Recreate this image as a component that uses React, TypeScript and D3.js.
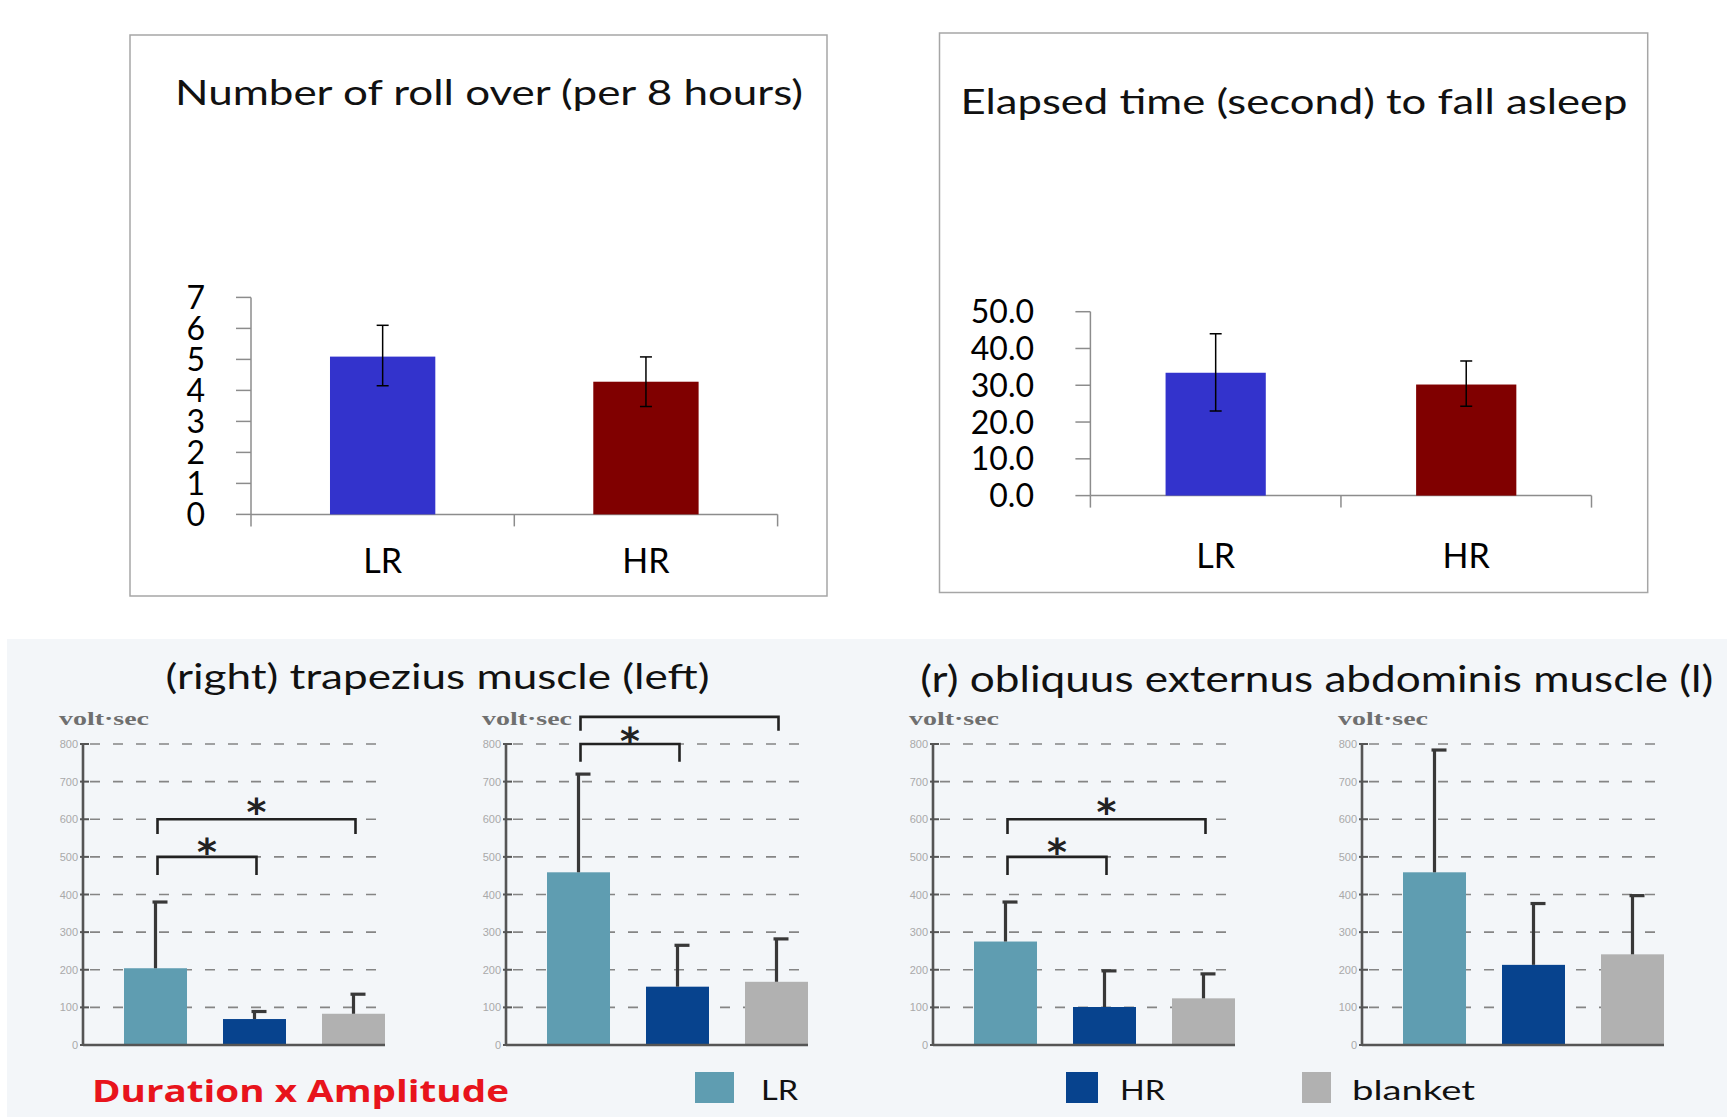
import React from "react";
import * as d3 from "d3";

// ---- top panels ----
const topGroups = ["LR", "HR"];
const topColors = ["#3333cc", "#800000"];

const rollOverMean = [5.09, 4.28];
const rollOverLow = [4.15, 3.48];
const rollOverHigh = [6.1, 5.08];
const rollOverTicks = [0, 1, 2, 3, 4, 5, 6, 7];

const asleepMean = [33.4, 30.2];
const asleepLow = [23.0, 24.3];
const asleepHigh = [44.0, 36.6];
const asleepTicks = [0, 10, 20, 30, 40, 50];

// ---- EMG panels (volt·sec) ----
const groups = ["LR", "HR", "blanket"];
const groupColors = ["#5f9db1", "#07438e", "#b1b1b1"];
const emgTicks = [0, 100, 200, 300, 400, 500, 600, 700, 800];

const trapRightMean = [204, 69, 83];
const trapRightUpper = [380, 89, 135];
const trapLeftMean = [459, 155, 168];
const trapLeftUpper = [720, 265, 282];
const obliqRightMean = [275, 101, 124];
const obliqRightUpper = [380, 197, 189];
const obliqLeftMean = [459, 213, 241];
const obliqLeftUpper = [784, 376, 397];

type Sig = { from: number; to: number; level: number; foot: number; star: number | null };

const trapRightSig: Sig[] = [
  { from: 0, to: 1, level: 500, foot: 452, star: 537 },
  { from: 0, to: 2, level: 600, foot: 561, star: 643 },
];
const trapLeftSig: Sig[] = [
  { from: 0, to: 1, level: 800, foot: 753, star: 833 },
  { from: 0, to: 2, level: 872, foot: 835, star: null },
];
const obliqRightSig: Sig[] = [
  { from: 0, to: 1, level: 500, foot: 452, star: 537 },
  { from: 0, to: 2, level: 600, foot: 561, star: 643 },
];
const obliqLeftSig: Sig[] = [];

const SANS = "Lato, 'Open Sans', sans-serif";

interface TopProps {
  box: [number, number, number, number];
  title: string;
  titleX: number;
  titleY: number;
  titleWidth: number;
  xRange: [number, number];
  yRange: [number, number];
  ticks: number[];
  fmt: (v: number) => string;
  labelX: number;
  catY: number;
  means: number[];
  low: number[];
  high: number[];
}

function TopChart(p: TopProps) {
  const x = d3.scaleBand<string>().domain(topGroups).range(p.xRange).padding(0);
  const y = d3
    .scaleLinear()
    .domain([p.ticks[0], p.ticks[p.ticks.length - 1]])
    .range(p.yRange);
  const [ax, xEnd] = p.xRange;
  const bw = x.bandwidth() * 0.4;
  const edges = [ax, ...topGroups.slice(1).map((g) => x(g) as number), xEnd];
  const axisColor = "#8c8c8c";

  return (
    <g>
      <rect
        x={p.box[0]}
        y={p.box[1]}
        width={p.box[2] - p.box[0]}
        height={p.box[3] - p.box[1]}
        fill="#fff"
        stroke="#a6a6a6"
        strokeWidth={1.5}
      />
      <text
        x={p.titleX}
        y={p.titleY}
        textAnchor="middle"
        fontFamily={SANS}
        fontSize={34}
        textLength={p.titleWidth}
        lengthAdjust="spacingAndGlyphs"
        fill="#111"
      >
        {p.title}
      </text>

      {/* axes */}
      <line x1={ax} x2={ax} y1={y(p.ticks[0])} y2={y(p.ticks[p.ticks.length - 1])} stroke={axisColor} strokeWidth={1.5} />
      <line x1={ax} x2={xEnd} y1={y(0)} y2={y(0)} stroke={axisColor} strokeWidth={1.5} />
      {p.ticks.map((t) => (
        <g key={t}>
          <line x1={ax - 15} x2={ax} y1={y(t)} y2={y(t)} stroke={axisColor} strokeWidth={1.5} />
          <text x={p.labelX} y={y(t) + 11.5} textAnchor="end" fontFamily={SANS} fontSize={32} fill="#000">
            {p.fmt(t)}
          </text>
        </g>
      ))}
      {edges.map((e, i) => (
        <line key={i} x1={e} x2={e} y1={y(0)} y2={y(0) + 12} stroke={axisColor} strokeWidth={1.5} />
      ))}

      {/* bars */}
      {topGroups.map((g, i) => {
        const cx = (x(g) as number) + x.bandwidth() / 2;
        return (
          <g key={g}>
            <rect x={cx - bw / 2} y={y(p.means[i])} width={bw} height={y(0) - y(p.means[i])} fill={topColors[i]} />
            <line x1={cx} x2={cx} y1={y(p.low[i])} y2={y(p.high[i])} stroke="#000" strokeWidth={1.5} />
            <line x1={cx - 6} x2={cx + 6} y1={y(p.high[i])} y2={y(p.high[i])} stroke="#000" strokeWidth={1.5} />
            <line x1={cx - 6} x2={cx + 6} y1={y(p.low[i])} y2={y(p.low[i])} stroke="#000" strokeWidth={1.5} />
            <text x={cx} y={p.catY} textAnchor="middle" fontFamily={SANS} fontSize={34} fill="#000">
              {g}
            </text>
          </g>
        );
      })}
    </g>
  );
}

interface EmgProps {
  axisX: number;
  means: number[];
  upper: number[];
  sig: Sig[];
}

function EmgChart({ axisX, means, upper, sig }: EmgProps) {
  const y = d3.scaleLinear().domain([0, 800]).range([1045, 744]);
  const x = d3
    .scaleBand<string>()
    .domain(groups)
    .range([axisX + 41, axisX + 302])
    .paddingInner(0.3636)
    .paddingOuter(0);
  const cxOf = (i: number) => (x(groups[i]) as number) + x.bandwidth() / 2;
  const dark = "#555";

  return (
    <g>
      <text
        x={axisX - 24}
        y={725}
        fontFamily="'Liberation Serif', 'DejaVu Serif', serif"
        fontWeight="bold"
        fontSize={19}
        fill="#6f6f6f"
        textLength={90}
        lengthAdjust="spacingAndGlyphs"
      >
        volt·sec
      </text>

      {/* dashed grid */}
      {emgTicks.slice(1).map((t) => (
        <line
          key={t}
          x1={axisX + 7}
          x2={axisX + 302}
          y1={y(t)}
          y2={y(t)}
          stroke="#858585"
          strokeWidth={1.7}
          strokeDasharray="10,13"
        />
      ))}

      {/* bars + upper error bars */}
      {groups.map((g, i) => {
        const cx = cxOf(i);
        return (
          <g key={g}>
            <rect x={x(g)} y={y(means[i])} width={x.bandwidth()} height={y(0) - y(means[i])} fill={groupColors[i]} />
            <line x1={cx} x2={cx} y1={y(means[i])} y2={y(upper[i])} stroke="#383838" strokeWidth={3.2} />
            <line x1={cx - 3} x2={cx + 12} y1={y(upper[i])} y2={y(upper[i])} stroke="#383838" strokeWidth={3.2} />
          </g>
        );
      })}

      {/* axis */}
      <line x1={axisX} x2={axisX} y1={y(0)} y2={y(800)} stroke={dark} strokeWidth={2.6} />
      <line x1={axisX} x2={axisX + 302} y1={y(0)} y2={y(0)} stroke={dark} strokeWidth={2.6} />
      {emgTicks.map((t) => (
        <g key={t}>
          <line x1={axisX - 3} x2={axisX + 6} y1={y(t)} y2={y(t)} stroke={dark} strokeWidth={2} />
          <text
            x={axisX - 5}
            y={y(t) + 4}
            textAnchor="end"
            fontFamily="'Liberation Sans', Arial, sans-serif"
            fontSize={11}
            fill="#a9a9a9"
          >
            {t}
          </text>
        </g>
      ))}

      {/* significance brackets */}
      {sig.map((s, k) => {
        const xa = cxOf(s.from) + 2;
        const xb = cxOf(s.to) + 2;
        return (
          <g key={k}>
            <path
              d={`M${xa},${y(s.foot)}V${y(s.level)}H${xb}V${y(s.foot)}`}
              fill="none"
              stroke="#222"
              strokeWidth={2.6}
            />
            {s.star !== null && (
              <text
                x={(xa + xb) / 2}
                y={y(s.star) + 22}
                textAnchor="middle"
                fontFamily="'DejaVu Sans', sans-serif"
                fontWeight="bold"
                fontSize={38}
                fill="#222"
              >
                *
              </text>
            )}
          </g>
        );
      })}
    </g>
  );
}

const legendItems = [
  { x: 695, w: 39, tx: 761, tw: 37 },
  { x: 1066, w: 32, tx: 1120, tw: 45 },
  { x: 1302, w: 29, tx: 1352, tw: 123 },
];

export default function App() {
  return (
    <svg
      width={1727}
      height={1117}
      style={{ position: "absolute", left: 0, top: 0, display: "block", background: "#fff" }}
    >
      <rect x={0} y={0} width={1727} height={1117} fill="#fff" />

      <TopChart
        box={[130, 35, 827, 596]}
        title="Number of roll over (per 8 hours)"
        titleX={489}
        titleY={105}
        titleWidth={628}
        xRange={[251, 777.6]}
        yRange={[514.4, 297.4]}
        ticks={rollOverTicks}
        fmt={(v) => `${v}`}
        labelX={205}
        catY={573}
        means={rollOverMean}
        low={rollOverLow}
        high={rollOverHigh}
      />
      <TopChart
        box={[939.5, 33, 1647.7, 592.5]}
        title="Elapsed time (second) to fall asleep"
        titleX={1294}
        titleY={113.6}
        titleWidth={667}
        xRange={[1090.4, 1591.5]}
        yRange={[495.6, 311.7]}
        ticks={asleepTicks}
        fmt={(v) => v.toFixed(1)}
        labelX={1034}
        catY={568}
        means={asleepMean}
        low={asleepLow}
        high={asleepHigh}
      />

      {/* bottom EMG section */}
      <rect x={7} y={639} width={1720} height={478} fill="#f3f6f9" />
      <text
        x={437.5}
        y={689}
        textAnchor="middle"
        fontFamily={SANS}
        fontSize={34}
        textLength={544}
        lengthAdjust="spacingAndGlyphs"
        fill="#111"
      >
        (right) trapezius muscle (left)
      </text>
      <text
        x={1316.7}
        y={692}
        textAnchor="middle"
        fontFamily={SANS}
        fontSize={36}
        textLength={793}
        lengthAdjust="spacingAndGlyphs"
        fill="#111"
      >
        (r) obliquus externus abdominis muscle (l)
      </text>

      <EmgChart axisX={83} means={trapRightMean} upper={trapRightUpper} sig={trapRightSig} />
      <EmgChart axisX={506} means={trapLeftMean} upper={trapLeftUpper} sig={trapLeftSig} />
      <EmgChart axisX={933} means={obliqRightMean} upper={obliqRightUpper} sig={obliqRightSig} />
      <EmgChart axisX={1362} means={obliqLeftMean} upper={obliqLeftUpper} sig={obliqLeftSig} />

      <text
        x={92}
        y={1101.5}
        fontFamily="'Open Sans', 'DejaVu Sans', sans-serif"
        fontWeight="bold"
        fontSize={31}
        textLength={417}
        lengthAdjust="spacingAndGlyphs"
        fill="#e8141c"
      >
        Duration x Amplitude
      </text>

      {groups.map((g, i) => (
        <g key={g}>
          <rect x={legendItems[i].x} y={1072} width={legendItems[i].w} height={31} fill={groupColors[i]} />
          <text
            x={legendItems[i].tx}
            y={1100}
            fontFamily={SANS}
            fontSize={27}
            textLength={legendItems[i].tw}
            lengthAdjust="spacingAndGlyphs"
            fill="#111"
          >
            {g}
          </text>
        </g>
      ))}
    </svg>
  );
}
